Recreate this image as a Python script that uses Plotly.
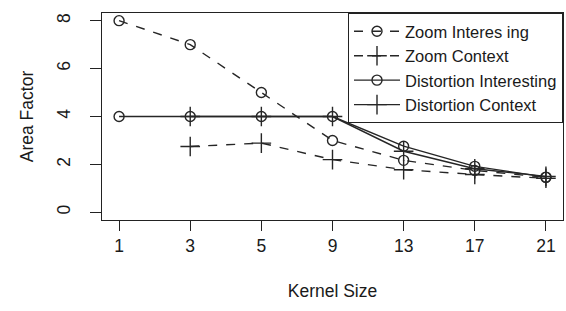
import plotly.graph_objects as go

kernel_sizes = ["1", "3", "5", "9", "13", "17", "21"]
zoom_interesting = [8, 7, 5, 3, 2.17, 1.75, 1.46]
zoom_context = [None, 2.75, 2.89, 2.2, 1.78, 1.58, 1.42]
distortion_interesting = [4, 4, 4, 4, 2.76, 1.92, 1.47]
distortion_context = [None, 4, 4, 4, 2.55, 1.82, 1.5]
y_ticks = [0, 2, 4, 6, 8]

FONT = "Liberation Sans, Arial, sans-serif"
INK = "#1a1a1a"

fig = go.Figure()

series = [
    ("Zoom Interes ing", zoom_interesting, "dash", "circle-open", 10),
    ("Zoom Context", zoom_context, "dash", "cross-thin-open", 14),
    ("Distortion Interesting", distortion_interesting, "solid", "circle-open", 10),
    ("Distortion Context", distortion_context, "solid", "cross-thin-open", 14),
]
for name, vals, dash, sym, size in series:
    fig.add_trace(go.Scatter(
        x=kernel_sizes, y=vals, name=name, mode="lines+markers",
        line=dict(color="#262626", width=1.4, dash=dash),
        marker=dict(symbol=sym, size=size, color="#262626", line=dict(width=1.4, color="#262626")),
        connectgaps=False,
    ))

fig.update_layout(
    width=566, height=311,
    margin=dict(l=102, r=3, t=13, b=91),
    paper_bgcolor="white", plot_bgcolor="white",
    font=dict(family=FONT, size=17.5, color=INK),
    showlegend=True,
    legend=dict(x=1, xanchor="right", y=1, yanchor="top",
                bgcolor="white", bordercolor="#222", borderwidth=1,
                font=dict(size=16.5, color=INK), tracegroupgap=0,
                itemwidth=46),
    xaxis=dict(
        type="category", range=[-0.24, 6.24],
        showline=True, mirror=True, linecolor="#222", linewidth=1,
        showgrid=False, zeroline=False,
        ticks="outside", ticklen=10, tickcolor="#222",
        tickfont=dict(size=17.5, color=INK),
        title=dict(text="Kernel Size", font=dict(size=17.5, color=INK), standoff=29),
    ),
    yaxis=dict(
        range=[-0.32, 8.32], tickvals=y_ticks, ticktext=[str(v) for v in y_ticks],
        tickangle=-90, ticklabelstandoff=13,
        showline=True, mirror=True, linecolor="#222", linewidth=1,
        showgrid=False, zeroline=False,
        ticks="outside", ticklen=11, tickcolor="#222",
        tickfont=dict(size=17.5, color=INK),
        title=dict(text="Area Factor", font=dict(size=17.5, color=INK), standoff=15),
    ),
)

fig.write_html("out.html", config={"displayModeBar": False},
               post_script="document.body.style.margin='0';")
